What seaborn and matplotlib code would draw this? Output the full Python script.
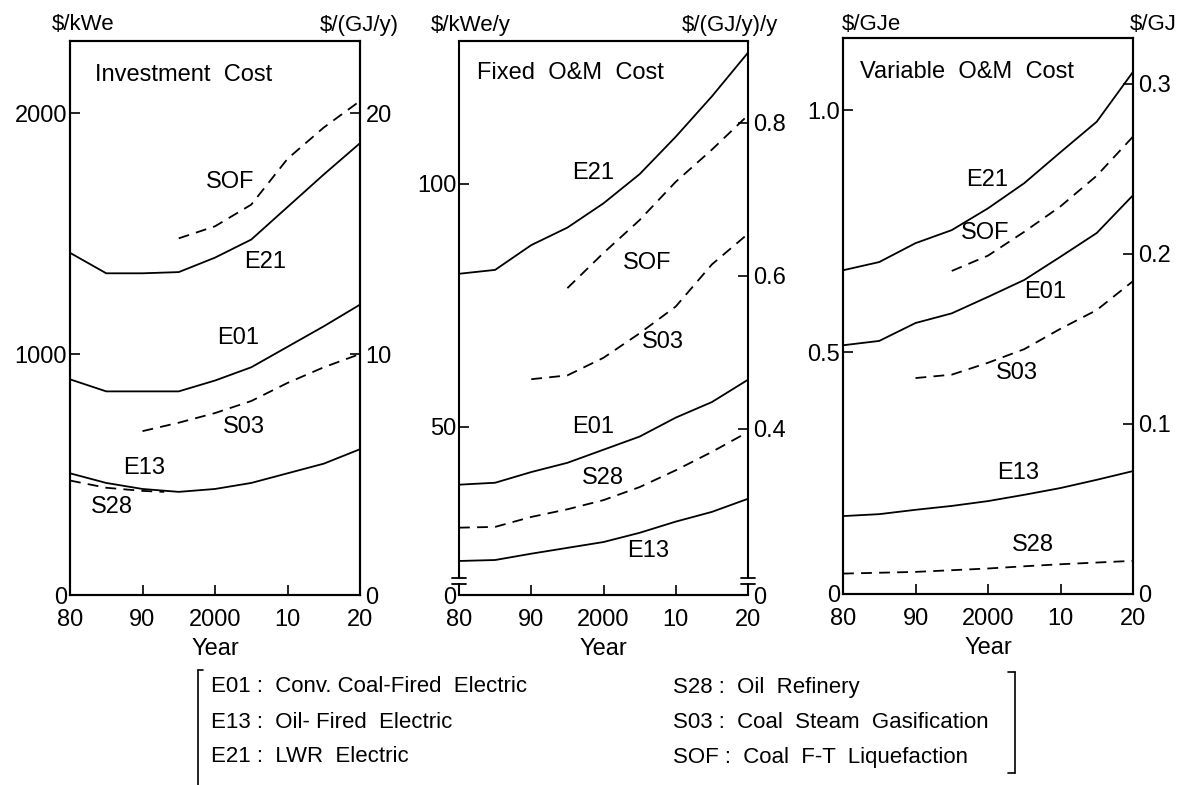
import matplotlib
matplotlib.use("Agg")
import matplotlib.pyplot as plt
import seaborn as sns
from matplotlib.lines import Line2D

# years on the x axis
years = [1980, 1985, 1990, 1995, 2000, 2005, 2010, 2015, 2020]
years_90 = [1990, 1995, 2000, 2005, 2010, 2015, 2020]
years_95 = [1995, 2000, 2005, 2010, 2015, 2020]
years_s28_inv = [1980, 1985, 1990, 1993]
year_ticks = [1980, 1990, 2000, 2010, 2020]
year_labels = ["80", "90", "2000", "10", "20"]

# Investment cost: E-series in $/kWe (left), S-series in $/(GJ/y) (right)
inv_e01 = [895, 845, 845, 845, 890, 945, 1030, 1115, 1205]
inv_e13 = [505, 465, 440, 428, 440, 465, 505, 545, 605]
inv_e21 = [1420, 1335, 1335, 1340, 1400, 1475, 1610, 1745, 1875]
inv_s28 = [4.75, 4.45, 4.32, 4.28]
inv_s03 = [6.8, 7.15, 7.55, 8.05, 8.8, 9.45, 10.0]
inv_sof = [14.8, 15.3, 16.2, 18.1, 19.4, 20.5]

# Fixed O&M cost: E-series in $/kWe/y (left), S-series in $/(GJ/y)/y (right)
fix_e01 = [38.1, 38.5, 40.7, 42.6, 45.3, 48.0, 51.9, 55.1, 59.7]
fix_e13 = [22.4, 22.6, 23.9, 25.1, 26.3, 28.2, 30.5, 32.5, 35.2]
fix_e21 = [81.5, 82.3, 87.4, 91.0, 96.0, 102.0, 109.7, 118.0, 127.0]
fix_s28 = [0.271, 0.272, 0.285, 0.295, 0.307, 0.324, 0.346, 0.370, 0.396]
fix_s03 = [0.465, 0.470, 0.493, 0.525, 0.560, 0.615, 0.655]
fix_sof = [0.584, 0.630, 0.673, 0.723, 0.765, 0.810]

# Variable O&M cost: E-series in $/GJe (left), S-series in $/GJ (right)
var_e01 = [0.514, 0.523, 0.560, 0.580, 0.614, 0.649, 0.697, 0.746, 0.824]
var_e13 = [0.161, 0.165, 0.174, 0.182, 0.192, 0.205, 0.219, 0.236, 0.254]
var_e21 = [0.669, 0.686, 0.725, 0.752, 0.797, 0.849, 0.913, 0.976, 1.079]
var_s28 = [0.012, 0.0125, 0.013, 0.014, 0.015, 0.0163, 0.0175, 0.0185, 0.0195]
var_s03 = [0.127, 0.129, 0.136, 0.144, 0.156, 0.167, 0.184]
var_sof = [0.190, 0.199, 0.213, 0.228, 0.246, 0.269]

legend_left = ["E01 :  Conv. Coal-Fired  Electric",
               "E13 :  Oil- Fired  Electric",
               "E21 :  LWR  Electric"]
legend_right = ["S28 :  Oil  Refinery",
                "S03 :  Coal  Steam  Gasification",
                "SOF :  Coal  F-T  Liquefaction"]

sns.set_style("ticks")
plt.rcParams["font.family"] = ["Liberation Sans", "DejaVu Sans"]
plt.rcParams.update({"text.color": "black", "axes.labelcolor": "black",
                     "xtick.color": "black", "ytick.color": "black",
                     "axes.edgecolor": "black"})

W, H = 1185, 785
FS = 17
fig = plt.figure(figsize=(W / 100, H / 100), dpi=100)


def px_axes(left, right, top, bottom):
    return fig.add_axes([left / W, 1 - bottom / H, (right - left) / W, (bottom - top) / H])


LW = 1.3
DASH = (0, (6, 4))


def line(ax, x, y, dashed=False):
    sns.lineplot(x=x, y=y, ax=ax, color="black", lw=LW, errorbar=None,
                 linestyle=DASH if dashed else "-")


def setup(ax, axr, ylim, yticks, ylabels, rlim, rticks, rlabels):
    ax.set_xlim(1980, 2020)
    ax.set_ylim(*ylim)
    axr.set_ylim(*rlim)
    ax.set_xticks(year_ticks, year_labels)
    ax.set_yticks(yticks, ylabels)
    axr.set_yticks(rticks, rlabels)
    ax.tick_params(axis="x", direction="in", length=7, width=1.2, labelsize=17, pad=10)
    ax.tick_params(axis="y", direction="in", length=7, width=1.2, labelsize=17, pad=2)
    axr.tick_params(axis="y", direction="in", length=7, width=1.2, labelsize=17, pad=4)
    for a in (ax, axr):
        for s in a.spines.values():
            s.set_visible(True)
            s.set_linewidth(1.5)
    ax.set_xlabel("Year", fontsize=FS, labelpad=5)
    ax.set_ylabel("")
    axr.set_ylabel("")


def labels(ax, items):
    for txt, x, y in items:
        ax.text(x, y, txt, transform=ax.transAxes, ha="center", va="center", fontsize=FS)


# ---- Panel 1: Investment Cost
ax1 = px_axes(70, 360, 41, 595)
ax1r = ax1.twinx()
line(ax1, years, inv_e21)
line(ax1, years, inv_e01)
line(ax1, years, inv_e13)
line(ax1r, years_95, inv_sof, True)
line(ax1r, years_90, inv_s03, True)
line(ax1r, years_s28_inv, inv_s28, True)
setup(ax1, ax1r, (0, 2299), [0, 1000, 2000], ["0", "1000", "2000"],
      (0, 22.99), [0, 10, 20], ["0", "10", "20"])
ax1.text(0.086, 0.939, "Investment  Cost", transform=ax1.transAxes, ha="left", va="center", fontsize=FS)
labels(ax1, [("SOF", 0.552, 0.745), ("E21", 0.672, 0.601), ("E01", 0.579, 0.464),
             ("S03", 0.600, 0.303), ("E13", 0.255, 0.229), ("S28", 0.145, 0.159)])

# ---- Panel 2: Fixed O&M Cost (broken axes)
ax2 = px_axes(459, 748, 41, 595)
ax2r = ax2.twinx()
line(ax2, years, fix_e21)
line(ax2, years, fix_e01)
line(ax2, years, fix_e13)
line(ax2r, years_95, fix_sof, True)
line(ax2r, years_90, fix_s03, True)
line(ax2r, years, fix_s28, True)
setup(ax2, ax2r, (15.4, 129.4), [15.4, 50, 100], ["0", "50", "100"],
      (0.183, 0.907), [0.183, 0.4, 0.6, 0.8], ["0", "0.4", "0.6", "0.8"])
for a in (ax2, ax2r):
    a.spines["left"].set_visible(False)
    a.spines["right"].set_visible(False)
for xa in (0.0, 1.0):
    for y0, y1 in ((0.031, 1.0), (0.0, 0.02)):
        ax2.add_line(Line2D([xa, xa], [y0, y1], transform=ax2.transAxes, color="black",
                            lw=1.5, clip_on=False))
    for yb in (0.031, 0.02):
        ax2.add_line(Line2D([xa - 0.025, xa + 0.025], [yb, yb], transform=ax2.transAxes,
                            color="black", lw=1.3, clip_on=False))
ax2.text(0.062, 0.942, "Fixed  O&M  Cost", transform=ax2.transAxes, ha="left", va="center", fontsize=FS)
labels(ax2, [("E21", 0.464, 0.762), ("SOF", 0.650, 0.599), ("S03", 0.706, 0.457),
             ("E01", 0.464, 0.303), ("S28", 0.498, 0.211), ("E13", 0.654, 0.079)])

# ---- Panel 3: Variable O&M Cost
ax3 = px_axes(843, 1133, 38, 594)
ax3r = ax3.twinx()
line(ax3, years, var_e21)
line(ax3, years, var_e01)
line(ax3, years, var_e13)
line(ax3r, years_95, var_sof, True)
line(ax3r, years_90, var_s03, True)
line(ax3r, years, var_s28, True)
setup(ax3, ax3r, (0, 1.149), [0, 0.5, 1.0], ["0", "0.5", "1.0"],
      (0, 0.327), [0, 0.1, 0.2, 0.3], ["0", "0.1", "0.2", "0.3"])
ax3.text(0.059, 0.939, "Variable  O&M  Cost", transform=ax3.transAxes, ha="left", va="center", fontsize=FS)
labels(ax3, [("E21", 0.497, 0.745), ("SOF", 0.490, 0.649), ("E01", 0.697, 0.543),
             ("S03", 0.600, 0.397), ("E13", 0.603, 0.218), ("S28", 0.655, 0.088)])

# unit labels above the panels
for txt, xc in [("$/kWe", 83), ("$/(GJ/y)", 359), ("$/kWe/y", 471), ("$/(GJ/y)/y", 730),
                ("$/GJe", 871), ("$/GJ", 1153)]:
    fig.text(xc / W, 1 - 25 / H, txt, ha="center", va="center", fontsize=16)

# legend block with brackets
for i, (l_txt, r_txt) in enumerate(zip(legend_left, legend_right)):
    yy = 1 - (687 + 35 * i) / H
    fig.text(211 / W, yy, l_txt, ha="left", va="center", fontsize=16)
    fig.text(673 / W, yy, r_txt, ha="left", va="center", fontsize=16)

fig.add_artist(Line2D([198 / W, 198 / W], [1 - 670 / H, 1 - 785 / H], transform=fig.transFigure,
                      color="black", lw=1.2))
fig.add_artist(Line2D([198 / W, 203 / W], [1 - 670 / H, 1 - 670 / H], transform=fig.transFigure,
                      color="black", lw=1.2))
fig.add_artist(Line2D([1015 / W, 1015 / W], [1 - 672 / H, 1 - 773 / H], transform=fig.transFigure,
                      color="black", lw=1.2))
for yb in (672, 773):
    fig.add_artist(Line2D([1008 / W, 1015 / W], [1 - yb / H, 1 - yb / H], transform=fig.transFigure,
                          color="black", lw=1.2))

fig.savefig("out.png", dpi=100)
